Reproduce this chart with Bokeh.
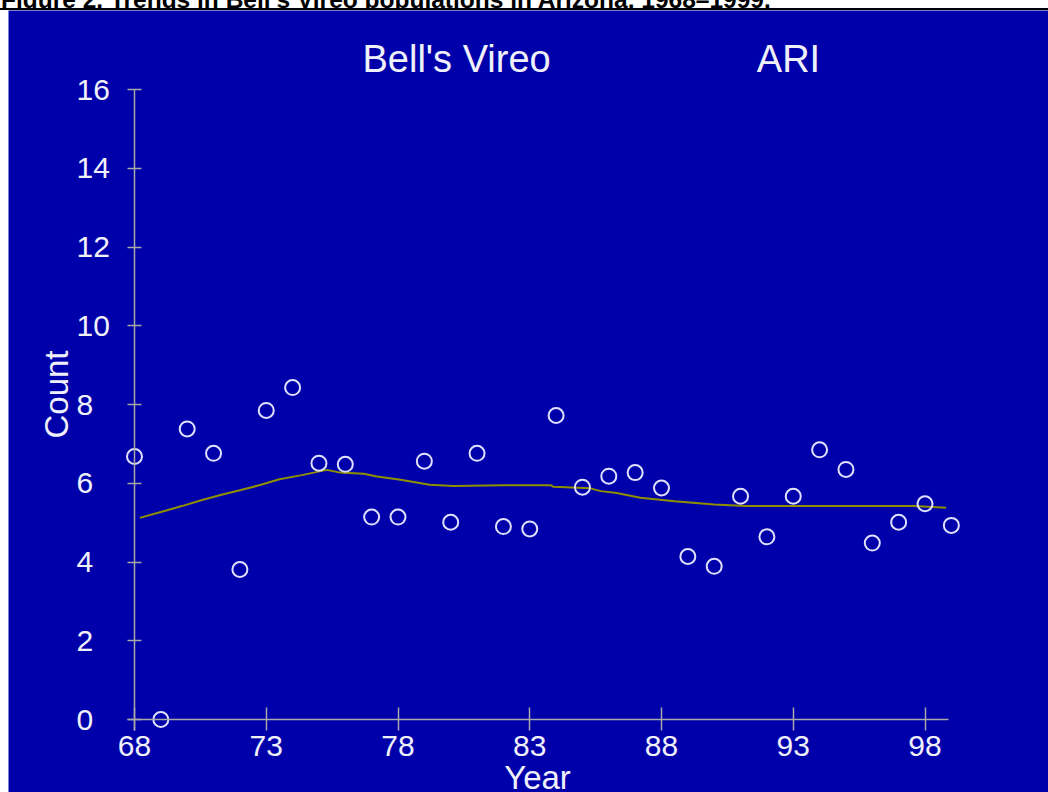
from bokeh.plotting import figure
from bokeh.models import ColumnDataSource, Range1d, FixedTicker, Label, Div
from bokeh.layouts import column
from bokeh.embed import file_html
from bokeh.resources import INLINE
from math import pi

# ---------------- data ----------------
years = [68, 69, 70, 71, 72, 73, 74, 75, 76, 77, 78, 79, 80, 81, 82, 83,
         84, 85, 86, 87, 88, 89, 90, 91, 92, 93, 94, 95, 96, 97, 98, 99]
counts = [6.68, 0.0, 7.38, 6.76, 3.81, 7.85, 8.43, 6.51, 6.48, 5.14, 5.14, 6.56,
          5.01, 6.76, 4.90, 4.84, 7.72, 5.90, 6.18, 6.27, 5.88, 4.14, 3.89, 5.67,
          4.64, 5.67, 6.85, 6.35, 4.48, 5.01, 5.48, 4.93]

trend_years = [68.2, 69.0, 69.8, 70.5, 71.3, 72.0, 72.8, 73.5, 74.3, 75.3, 75.8,
               76.7, 77.2, 78.1, 79.2, 80.1, 82.0, 83.8, 83.9, 85.3, 85.7, 86.3,
               87.2, 88.5, 90.0, 91.2, 97.6, 98.8]
trend_values = [5.12, 5.27, 5.42, 5.56, 5.71, 5.82, 5.96, 6.10, 6.20, 6.34, 6.27,
                6.24, 6.17, 6.09, 5.96, 5.93, 5.95, 5.95, 5.91, 5.87, 5.80, 5.75,
                5.63, 5.54, 5.46, 5.42, 5.42, 5.38]

x_ticks = [68, 73, 78, 83, 88, 93, 98]
y_ticks = [0, 2, 4, 6, 8, 10, 12, 14, 16]

title_text = "Figure 2. Trends in Bell\u2019s Vireo populations in Arizona, 1968\u20131999."
species = "Bell's Vireo"
region = "ARI"
x_label = "Year"
y_label = "Count"

# ---------------- styling / layout ----------------
BG = "#0000aa"
AXIS = "#a8a8a8"
TXT = "#f0f0fa"
PT = "#e0e0ff"
TREND = "#8f8f00"
FONT = "Liberation Sans"

W, H = 1040, 782
PX0, PY0 = 8, 10             # page offset of the figure
X_PER = 26.35                # pixels per year
Y_PER = 39.375               # pixels per count unit
X0_PAGE, Y0_PAGE = 134, 719  # page position of (68, 0)

def px2x(px):
    return 68 + (px - X0_PAGE) / X_PER

def py2y(py):
    return (Y0_PAGE - py) / Y_PER

p = figure(width=W, height=H, output_backend="svg", toolbar_location=None,
           x_range=Range1d(px2x(PX0), px2x(PX0 + W)),
           y_range=Range1d(py2y(PY0 + H), py2y(PY0)),
           x_axis_location="above", y_axis_location="right",
           min_border_left=0, min_border_right=0, min_border_top=0,
           min_border_bottom=0, margin=(0, 0, 0, 8))
p.background_fill_color = BG
p.border_fill_color = BG
p.outline_line_color = None
p.grid.visible = False

for ax in (p.xaxis[0], p.yaxis[0]):
    ax.axis_line_color = AXIS
    ax.axis_line_width = 1.5
    ax.major_tick_line_color = AXIS
    ax.major_tick_line_width = 1.5
    ax.minor_tick_line_color = None
    ax.major_label_text_color = TXT
    ax.major_label_text_font = FONT
    ax.major_label_text_font_size = "30px"

# x axis: drawn at count 0, labels pushed below the line
xa = p.xaxis[0]
xa.fixed_location = 0
xa.bounds = (px2x(127), px2x(948))
xa.ticker = FixedTicker(ticks=x_ticks)
xa.major_tick_out = 12
xa.major_tick_in = 11
xa.major_label_standoff = -48

# y axis: drawn at year 68, labels pushed left of the line
ya = p.yaxis[0]
ya.fixed_location = 68
ya.bounds = (py2y(730), 16)
ya.ticker = FixedTicker(ticks=y_ticks)
ya.major_tick_in = 7
ya.major_tick_out = 7
ya.major_label_standoff = -65

src = ColumnDataSource(dict(year=years, count=counts))
tsrc = ColumnDataSource(dict(year=trend_years, value=trend_values))

p.line("year", "value", source=tsrc, line_color=TREND, line_width=2)
p.scatter("year", "count", source=src, marker="circle", size=15,
          fill_color=None, line_color=PT, line_width=2)

p.add_layout(Label(x=px2x(362), y=py2y(58), text=species, text_color=TXT,
                   text_font=FONT, text_font_size="38px",
                   text_align="left", text_baseline="alphabetic"))
p.add_layout(Label(x=px2x(788), y=py2y(58), text=region, text_color=TXT,
                   text_font=FONT, text_font_size="38px",
                   text_align="center", text_baseline="alphabetic"))
p.add_layout(Label(x=px2x(537), y=py2y(777), text=x_label, text_color=TXT,
                   text_font=FONT, text_font_size="33px",
                   text_align="center", text_baseline="alphabetic"))
p.add_layout(Label(x=px2x(56), y=py2y(394), text=y_label, text_color=TXT,
                   text_font=FONT, text_font_size="33px",
                   angle=pi / 2, text_align="center", text_baseline="alphabetic"))

title_div = Div(
    text='<div style="margin-top:-18px;position:relative;top:-4px;padding-left:1px;'
         'white-space:nowrap;font:bold 24.5px \'Liberation Sans\', Arial, sans-serif;'
         'line-height:24px;color:#000;">' + title_text + '</div>',
    width=1048, height=10, margin=(0, 0, 0, 0),
    styles={"overflow": "hidden", "background-color": "white",
            "border-bottom": "2px solid black", "box-sizing": "border-box"})

layout = column(title_div, p, spacing=0,
                styles={"position": "absolute", "left": "0px", "top": "0px"})
open("out.html", "w").write(file_html(layout, INLINE))
